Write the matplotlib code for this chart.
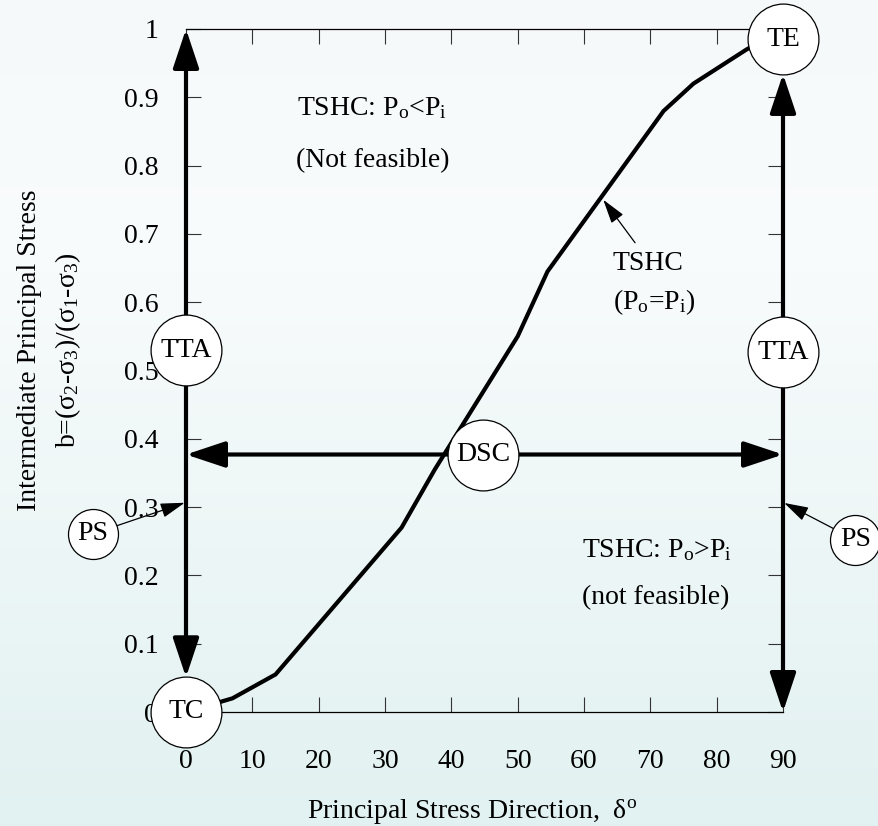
import numpy as np
import matplotlib
matplotlib.use("Agg")
import matplotlib.pyplot as plt

plt.rcParams['font.family'] = ['Liberation Serif', 'DejaVu Serif']
plt.rcParams['mathtext.fontset'] = 'custom'
plt.rcParams['mathtext.rm'] = 'Liberation Serif'
plt.rcParams['mathtext.it'] = 'Liberation Serif:italic'
plt.rcParams['mathtext.default'] = 'regular'

# TSHC curve (Po = Pi)
delta = [0, 7, 13.5, 32.5, 37.5, 50, 54.5, 72, 76.5, 84.5, 90]
b_val = [0, 0.02, 0.055, 0.27, 0.355, 0.55, 0.645, 0.88, 0.92, 0.97, 1.0]

x_ticks = [0, 10, 20, 30, 40, 50, 60, 70, 80, 90]
y_ticks = [0, 0.1, 0.2, 0.3, 0.4, 0.5, 0.6, 0.7, 0.8, 0.9, 1]
y_ticklabels = ['0', '0.1', '0.2', '0.3', '0.4', '0.5', '0.6', '0.7', '0.8', '0.9', '1']

# big circled labels (name, x, y)
big_nodes = [('TC', 0, 0), ('TE', 90, 0.985), ('TTA', 0, 0.53), ('TTA', 90, 0.527), ('DSC', 44.8, 0.377)]
# small PS circles: (x, y, arrow target x, arrow target y)
ps_nodes = [(-14.0, 0.261, 0, 0.307), (100.9, 0.252, 90, 0.307)]
dsc_y = 0.377
fs = 20

fig = plt.figure(figsize=(8.79, 8.26), dpi=100)

# background gradient
bg = fig.add_axes([0, 0, 1, 1], zorder=-10)
grad = np.linspace(0, 1, 256)
top = np.array([0.965, 0.978, 0.98])
mid = np.array([0.975, 0.986, 0.988])
bot = np.array([0.886, 0.945, 0.945])
rows = []
for g in grad:
    if g < 0.3:
        c = top + (mid - top) * g / 0.3
    else:
        c = mid + (bot - mid) * (g - 0.3) / 0.7
    rows.append(c)
img = np.array(rows).reshape(256, 1, 3)
bg.imshow(img, aspect='auto', extent=[0, 1, 0, 1])
bg.axis('off')

ax = fig.add_axes([186 / 879, 1 - 712 / 826, (783 - 186) / 879, (712 - 29) / 826])
ax.patch.set_alpha(0)
ax.set_xlim(0, 90)
ax.set_ylim(0, 1)
ax.spines['left'].set_visible(False)
ax.spines['right'].set_visible(False)
for s in ['top', 'bottom']:
    ax.spines[s].set_linewidth(0.9)

ax.set_xticks(x_ticks)
ax.set_yticks(y_ticks)
ax.set_yticklabels(y_ticklabels)
ax.tick_params(axis='both', direction='in', length=11, width=0.8, color='#333333',
               labelsize=fs, top=True, right=True)
ax.tick_params(axis='x', pad=27)
ax.tick_params(axis='y', pad=20)

ax.plot(delta, b_val, color='black', lw=3, zorder=3, clip_on=False, solid_joinstyle='miter')

head = dict(arrowstyle='<|-|>,head_length=2.4,head_width=0.8', lw=3, color='black',
            mutation_scale=10)
ax.annotate('', xy=(0, 1), xytext=(0, 0),
            arrowprops=dict(head, shrinkA=25, shrinkB=0), zorder=3, annotation_clip=False)
ax.annotate('', xy=(90, 0.985), xytext=(90, 0),
            arrowprops=dict(head, shrinkA=0, shrinkB=25), zorder=3, annotation_clip=False)
ax.annotate('', xy=(90, dsc_y), xytext=(0, dsc_y),
            arrowprops=dict(head, shrinkA=0, shrinkB=0), zorder=3, annotation_clip=False)

for name, x, y in big_nodes:
    ax.plot(x, y, 'o', ms=51, mfc='white', mec='black', mew=0.9, zorder=5, clip_on=False)
    ax.text(x, y, name, ha='center', va='center', fontsize=fs, zorder=6)

thin = dict(arrowstyle='-|>,head_length=1.5,head_width=0.45', lw=0.9, color='black',
            mutation_scale=10)
for x, y, tx, ty in ps_nodes:
    ax.plot(x, y, 'o', ms=36, mfc='white', mec='black', mew=0.9, zorder=5, clip_on=False)
    ax.text(x, y, 'PS', ha='center', va='center', fontsize=fs, zorder=6)
    ax.annotate('', xy=(tx, ty), xytext=(x, y),
                arrowprops=dict(thin, shrinkA=18, shrinkB=1), zorder=4, annotation_clip=False)

ax.text(28.0, 0.884, 'TSHC: P$_o$<P$_i$', ha='center', va='center', fontsize=fs)
ax.text(28.2, 0.808, '(Not feasible)', ha='center', va='center', fontsize=fs)
ax.text(64.3, 0.657, 'TSHC', ha='left', va='center', fontsize=fs)
ax.text(64.3, 0.600, '(P$_o$=P$_i$)', ha='left', va='center', fontsize=fs)
ax.annotate('', xy=(62.9, 0.75), xytext=(67.7, 0.687),
            arrowprops=dict(thin, shrinkA=0, shrinkB=0), zorder=4)
ax.text(59.7, 0.237, 'TSHC: P$_o$>P$_i$', ha='left', va='center', fontsize=fs)
ax.text(59.7, 0.168, '(not feasible)', ha='left', va='center', fontsize=fs)

fig.text(472 / 879, 1 - 812 / 826, r'Principal Stress Direction,  δ$^o$',
         ha='center', va='center', fontsize=fs)
fig.text(30 / 879, 1 - 350 / 826, 'Intermediate Principal Stress', rotation=90,
         ha='center', va='center', fontsize=fs)
fig.text(68 / 879, 1 - 350 / 826, 'b=(σ$_2$-σ$_3$)/(σ$_1$-σ$_3$)', rotation=90,
         ha='center', va='center', fontsize=fs)

fig.savefig('out.png', dpi=100)
